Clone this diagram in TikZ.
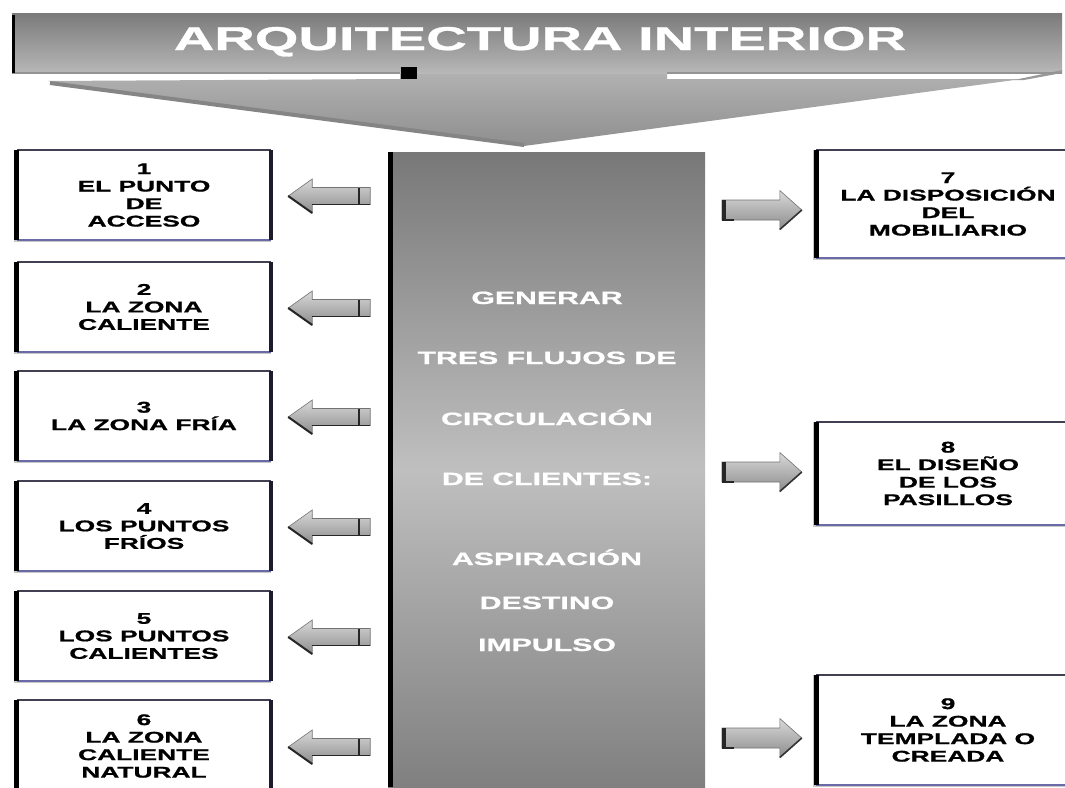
\documentclass[tikz,border=0pt]{standalone}
\usepackage{fontspec}
\newfontfamily\wfont{Liberation Sans Bold}[FakeStretch=1.7, FakeBold=1]
\usetikzlibrary{calc}
\definecolor{edgenavy}{HTML}{1C1C2E}
\definecolor{edgetop}{HTML}{404052}
\definecolor{edgebot}{HTML}{6A6AA8}
\tikzset{
  boxtext/.style={font=\wfont\fontsize{15.5}{17.5}\selectfont, align=center, text=black},
  lbox/.style={fill=white, minimum width=254pt, minimum height=90pt, boxtext, inner sep=0pt},
  rbox/.style={fill=white, minimum width=263pt, boxtext, inner sep=0pt},
  coltext/.style={font=\wfont\fontsize{17.8}{20}\selectfont, text=white, inner sep=0pt, anchor=base},
  headtext/.style={font=\wfont\fontsize{33}{36}\selectfont, text=white, inner sep=0pt, anchor=base},
  arrowbody/.style={top color=black!15, bottom color=black!45, draw=black!55, line width=0.6pt},
  larrow/.pic={
    \shade[arrowbody] (0,0) -- (24,-17) -- (24,-8.5) -- (82,-8.5) -- (82,8.5) -- (24,8.5) -- (24,17) -- cycle;
    \draw[black!85, line width=2pt] (0,0) -- (24,17);
    \draw[black!85, line width=1.6pt] (24,8.5) -- (82,8.5);
    \draw[black!85, line width=2pt] (71,-8.5) -- (71,8.5);
  },
  rarrow/.pic={
    \shade[arrowbody] (0,-10) -- (58,-10) -- (58,-19.5) -- (80,0) -- (58,19.5) -- (58,10) -- (0,10) -- cycle;
    \draw[black!80, line width=1.6pt] (80,0) -- (58,19.5);
    \draw[black!85, line width=3.5pt] (2,-10) -- (2,10);
    \draw[black!85, line width=2pt] (0,10) -- (12,10);
  }
}
\newcommand\frameit[1]{%
  \draw[black!22, line width=2pt] ($(#1.north west)+(-2,0)$) -- ($(#1.south west)+(-2,1)$) -- ($(#1.south east)+(0,1)$);
  \draw[edgetop, line width=2pt] (#1.north west) -- (#1.north east);
  \draw[edgebot, line width=2pt] (#1.south west) -- (#1.south east);
  \draw[edgenavy, line width=4.5pt] (#1.north east) -- (#1.south east);
  \draw[black, line width=5pt] (#1.north west) -- (#1.south west);
}
\begin{document}
\begin{tikzpicture}[x=1pt, y=-1pt]
\useasboundingbox (0,0) rectangle (1065,787);
\clip (0,0) rectangle (1065,787);
\fill[white] (0,0) rectangle (1065,787);

% --- heading block arrow ---
\shade[top color=black!30, bottom color=black!44]
  (48,81) -- (400,79) -- (400,70) -- (667,70) -- (667,79) -- (1022,79) -- (524,146) -- cycle;
\draw[black!48, line width=4pt] (50,83) -- (524,145);
\shade[top color=black!52, bottom color=black!28] (12,13) rectangle (1062,73);
\fill[black!40] (1062,70) -- (1062,73) -- (1024,80) -- (1014,80) -- cycle;
\draw[black!42, line width=1.5pt] (12,73) -- (400,73);
\draw[black!42, line width=1.5pt] (667,73) -- (1062,73);
\draw[black, line width=3pt] (13.5,15) -- (13.5,73);
\fill[black] (401,67) rectangle (417,79);
\node[headtext] (head) at (540,50) {ARQUITECTURA INTERIOR};

% --- central column ---
\node[inner sep=0pt, minimum width=317pt, minimum height=635pt,
      shade, top color=black!53, bottom color=black!50, middle color=black!25] (col) at (546.5,469.5) {};
\draw[black, line width=5pt] ($(col.north west)+(2.5,0)$) -- ($(col.south west)+(2.5,0)$);
\node[coltext] (c1) at (547,304) {GENERAR};
\node[coltext] (c2) at (547,364) {TRES FLUJOS DE};
\node[coltext] (c3) at (547,425) {CIRCULACIÓN};
\node[coltext] (c4) at (547,485) {DE CLIENTES:};
\node[coltext] (c5) at (547,565) {ASPIRACIÓN};
\node[coltext] (c6) at (547,609) {DESTINO};
\node[coltext] (c7) at (547,651) {IMPULSO};

% --- left boxes ---
\node[lbox] (b1) at (144,195) {1\\EL PUNTO\\DE\\ACCESO};
\node[lbox] (b2) at (144,307) {2\\LA ZONA\\CALIENTE};
\node[lbox] (b3) at (144,416) {3\\LA ZONA FRÍA};
\node[lbox] (b4) at (144,526) {4\\LOS PUNTOS\\FRÍOS};
\node[lbox] (b5) at (144,636) {5\\LOS PUNTOS\\CALIENTES};
\node[lbox, minimum height=92pt] (b6) at (144,746) {6\\LA ZONA\\CALIENTE\\NATURAL};
\foreach \b in {b1,b2,b3,b4,b5,b6} {\frameit{\b}}

% --- right boxes ---
\node[rbox, minimum height=108pt] (b7) at (948,204) {7\\LA DISPOSICIÓN\\DEL\\MOBILIARIO};
\node[rbox, minimum height=103pt] (b8) at (948,473.5) {8\\EL DISEÑO\\DE LOS\\PASILLOS};
\node[rbox, minimum height=110pt] (b9) at (948,730) {9\\LA ZONA\\TEMPLADA O\\CREADA};
\foreach \b in {b7,b8,b9} {\frameit{\b}}

% --- block arrows ---
\foreach \b in {b1,b2,b3,b4,b5,b6} {\pic at ($(\b.east)+(17,1)$) {larrow};}
\pic at ($(b7.west)+(-94.5,6)$) {rarrow};
\pic at ($(b8.west)+(-94.5,-1.5)$) {rarrow};
\pic at ($(b9.west)+(-94.5,8)$) {rarrow};
\end{tikzpicture}
\end{document}
